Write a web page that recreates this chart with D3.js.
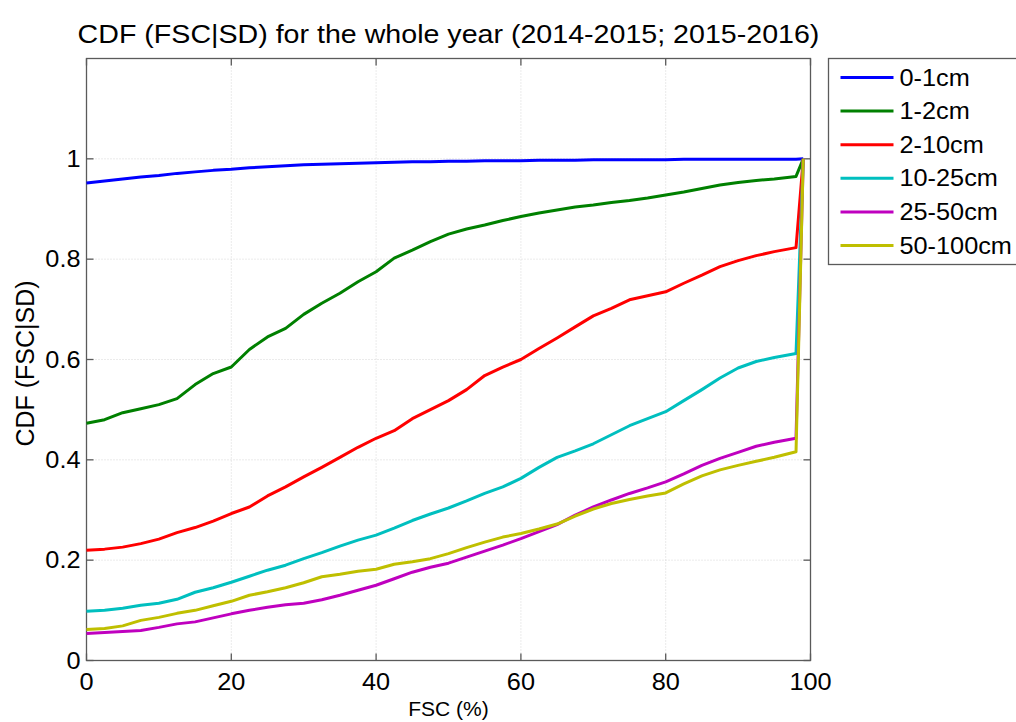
<!DOCTYPE html>
<html>
<head>
<meta charset="utf-8">
<script src="https://cdn.jsdelivr.net/npm/d3@7"></script>
<style>
  body { margin: 0; background: #fff; }
  svg { display: block; font-family: "Liberation Sans", Arial, sans-serif; }
  .tick-lbl { font-size: 23px; fill: #000; }
  .ttl { font-size: 26px; fill: #000; }
  .axlbl { font-size: 21px; fill: #000; }
  .ylbl { font-size: 25px; fill: #000; }
  .leg { font-size: 23px; fill: #000; }
</style>
</head>
<body>
<div id="chart"></div>
<script>
// CDF of FSC conditional on snow-depth class
const fsc = [0, 2.5, 5, 7.5, 10, 12.5, 15, 17.5, 20, 22.5, 25, 27.5, 30, 32.5, 35, 37.5, 40, 42.5, 45, 47.5,
  50, 52.5, 55, 57.5, 60, 62.5, 65, 67.5, 70, 72.5, 75, 77.5, 80, 82.5, 85, 87.5, 90, 92.5, 95, 98, 99];

const sd0_1 = [0.952, 0.956, 0.960, 0.964, 0.967, 0.971, 0.974, 0.977, 0.979, 0.982, 0.984, 0.986, 0.988, 0.989, 0.990, 0.991, 0.992, 0.993, 0.994, 0.994,
  0.995, 0.995, 0.996, 0.996, 0.996, 0.997, 0.997, 0.997, 0.998, 0.998, 0.998, 0.998, 0.998, 0.999, 0.999, 0.999, 0.999, 0.999, 0.999, 0.999, 1.0];
const sd1_2 = [0.473, 0.480, 0.494, 0.502, 0.510, 0.522, 0.550, 0.572, 0.585, 0.620, 0.645, 0.662, 0.690, 0.712, 0.732, 0.755, 0.775, 0.802, 0.818, 0.835,
  0.850, 0.860, 0.868, 0.877, 0.885, 0.892, 0.898, 0.904, 0.908, 0.913, 0.917, 0.922, 0.928, 0.934, 0.941, 0.948, 0.953, 0.957, 0.960, 0.965, 1.0];
const sd2_10 = [0.220, 0.222, 0.226, 0.233, 0.242, 0.255, 0.265, 0.278, 0.293, 0.306, 0.328, 0.346, 0.366, 0.385, 0.405, 0.425, 0.443, 0.458, 0.482, 0.500,
  0.518, 0.540, 0.568, 0.585, 0.600, 0.622, 0.643, 0.665, 0.687, 0.702, 0.719, 0.727, 0.735, 0.752, 0.768, 0.785, 0.797, 0.807, 0.815, 0.823, 1.0];
const sd10_25 = [0.098, 0.100, 0.104, 0.110, 0.114, 0.122, 0.136, 0.145, 0.156, 0.168, 0.180, 0.190, 0.203, 0.215, 0.228, 0.240, 0.250, 0.264, 0.279, 0.292,
  0.304, 0.318, 0.333, 0.346, 0.363, 0.385, 0.405, 0.418, 0.432, 0.450, 0.468, 0.482, 0.496, 0.518, 0.540, 0.563, 0.583, 0.596, 0.604, 0.612, 1.0];
const sd25_50 = [0.054, 0.056, 0.058, 0.060, 0.066, 0.073, 0.077, 0.085, 0.093, 0.100, 0.106, 0.111, 0.114, 0.121, 0.130, 0.140, 0.150, 0.163, 0.176, 0.186,
  0.194, 0.206, 0.218, 0.230, 0.243, 0.257, 0.271, 0.290, 0.306, 0.320, 0.333, 0.344, 0.356, 0.372, 0.389, 0.403, 0.415, 0.427, 0.435, 0.443, 1.0];
const sd50_100 = [0.062, 0.064, 0.069, 0.080, 0.086, 0.094, 0.100, 0.109, 0.118, 0.130, 0.137, 0.145, 0.155, 0.167, 0.172, 0.178, 0.182, 0.192, 0.197, 0.203,
  0.213, 0.225, 0.236, 0.246, 0.253, 0.262, 0.272, 0.288, 0.302, 0.313, 0.321, 0.328, 0.334, 0.352, 0.368, 0.380, 0.389, 0.397, 0.405, 0.416, 1.0];

const labels = ["0-1cm", "1-2cm", "2-10cm", "10-25cm", "25-50cm", "50-100cm"];
const colors = ["#0000ff", "#008000", "#ff0000", "#00bfbf", "#bf00bf", "#bfbf00"];
const seriesVals = [sd0_1, sd1_2, sd2_10, sd10_25, sd25_50, sd50_100];
const xTicks = [0, 20, 40, 60, 80, 100];
const yTicks = [0, 0.2, 0.4, 0.6, 0.8, 1];

const W = 1016, H = 722;
const m = { top: 58.5, right: 205.5, bottom: 61.5, left: 86.5 };
const sx = 1.1; // the source renders its text a bit wider than Liberation Sans

const svg = d3.select("#chart").append("svg").attr("width", W).attr("height", H);

const x = d3.scaleLinear().domain([0, 100]).range([m.left, W - m.right]);
const y = d3.scaleLinear().domain([0, 1.2]).range([H - m.bottom, m.top]);

// text placed at (px,py), stretched horizontally around its anchor
function wideText(parent, px, py, cls, anchor, str) {
  return parent.append("text").attr("class", cls).attr("text-anchor", anchor)
    .attr("transform", `translate(${px},${py}) scale(${sx},1)`).text(str);
}

// grid
svg.append("g").selectAll("line").data(xTicks.slice(1, -1)).join("line")
  .attr("x1", x).attr("x2", x).attr("y1", m.top).attr("y2", H - m.bottom)
  .attr("stroke", "#d6d6d6").attr("stroke-dasharray", "1,2");
svg.append("g").selectAll("line").data(yTicks.slice(1)).join("line")
  .attr("x1", m.left).attr("x2", W - m.right).attr("y1", y).attr("y2", y)
  .attr("stroke", "#d6d6d6").attr("stroke-dasharray", "1,2");

// box + inward ticks
const gray = "#5a5a5a";
svg.append("rect").attr("x", m.left).attr("y", m.top)
  .attr("width", W - m.right - m.left).attr("height", H - m.bottom - m.top)
  .attr("fill", "none").attr("stroke", gray).attr("stroke-width", 1.3);
const tl = 7;
const tk = svg.append("g").attr("stroke", gray).attr("stroke-width", 1.3);
xTicks.forEach((d) => {
  tk.append("line").attr("x1", x(d)).attr("x2", x(d)).attr("y1", H - m.bottom).attr("y2", H - m.bottom - tl);
  tk.append("line").attr("x1", x(d)).attr("x2", x(d)).attr("y1", m.top).attr("y2", m.top + tl);
});
yTicks.forEach((d) => {
  tk.append("line").attr("x1", m.left).attr("x2", m.left + tl).attr("y1", y(d)).attr("y2", y(d));
  tk.append("line").attr("x1", W - m.right).attr("x2", W - m.right - tl).attr("y1", y(d)).attr("y2", y(d));
});

// tick labels
const gx = svg.append("g");
xTicks.forEach((d) => wideText(gx, x(d), H - m.bottom + 29, "tick-lbl", "middle", d));
const gy = svg.append("g");
yTicks.forEach((d) => wideText(gy, m.left - 6, y(d) + 8, "tick-lbl", "end", d));

// lines
const line = d3.line().x((d, i) => x(fsc[i])).y((d) => y(d));
seriesVals.forEach((vals, i) => {
  svg.append("path").datum(vals).attr("d", line)
    .attr("fill", "none").attr("stroke", colors[i]).attr("stroke-width", 3)
    .attr("stroke-linejoin", "round");
});

// titles
wideText(svg, (m.left + W - m.right) / 2, 43, "ttl", "middle",
  "CDF (FSC|SD) for the whole year (2014-2015; 2015-2016)");
svg.append("text").attr("class", "axlbl").attr("x", (m.left + W - m.right) / 2).attr("y", 716)
  .attr("text-anchor", "middle").text("FSC (%)");
svg.append("text").attr("class", "ylbl")
  .attr("transform", `translate(34,${(m.top + H - m.bottom) / 2 + 4}) rotate(-90)`)
  .attr("text-anchor", "middle").text("CDF (FSC|SD)");

// legend
const lg = svg.append("g").attr("transform", "translate(828.5,58.5)");
lg.append("rect").attr("width", 200).attr("height", 206)
  .attr("fill", "#fff").attr("stroke", gray).attr("stroke-width", 1.3);
labels.forEach((lab, i) => {
  const yy = 19 + i * 33.6;
  lg.append("line").attr("x1", 12).attr("x2", 65).attr("y1", yy).attr("y2", yy)
    .attr("stroke", colors[i]).attr("stroke-width", 3);
  wideText(lg, 71, yy + 8, "leg", "start", lab);
});
</script>
</body>
</html>
